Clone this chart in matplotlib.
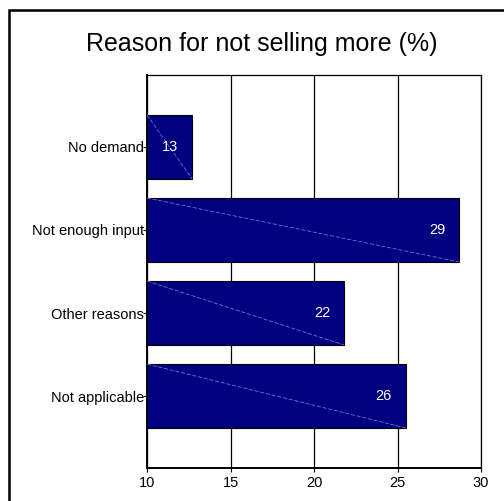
import matplotlib
matplotlib.use("Agg")
import matplotlib.pyplot as plt
from matplotlib.patches import Rectangle

# data
reasons = ["No demand", "Not enough input", "Other reasons", "Not applicable"]
shares = [12.7, 28.7, 21.8, 25.5]
share_labels = ["13", "29", "22", "26"]
x_ticks = [10, 15, 20, 25, 30]

plt.rcParams['font.family'] = ['Liberation Sans', 'DejaVu Sans']

fig = plt.figure(figsize=(5.04, 5.01), dpi=100)
W, H = 504, 501

# outer frame of the chart
fig.patches.append(Rectangle((9 / W, -0.2), 1.2, 1 - 10 / H + 0.2,
                             transform=fig.transFigure, fill=False,
                             edgecolor='black', linewidth=1.8))

ax = fig.add_axes([147 / W, 1 - 468 / H, (481 - 147) / W, (468 - 75) / H])

pos = list(range(len(reasons)))
bar_h = 0.77
ax.barh(pos, [v - 10 for v in shares], left=10, height=bar_h,
        color='#000080', edgecolor='black', linewidth=0.8, zorder=3)

# thin diagonal line inside each bar
for p, v in zip(pos, shares):
    ax.plot([10, v], [p - bar_h / 2, p + bar_h / 2], color='#7070d8',
            linewidth=0.6, linestyle=(0, (5, 2)), zorder=4)

for p, v, lab in zip(pos, shares, share_labels):
    ax.annotate(lab, (v, p), xytext=(-22, 0), textcoords='offset pixels',
                ha='center', va='center', color='white', fontsize=10.5, zorder=5)

ax.set_xlim(10, 30)
ax.set_ylim(len(reasons) - 1 + 0.867, -0.867)
ax.set_xticks(x_ticks)
ax.set_yticks(pos)
ax.set_yticklabels(reasons)
ax.xaxis.grid(True, color='black', linewidth=0.9, zorder=0)
ax.set_axisbelow(True)
ax.tick_params(axis='y', length=3, pad=-1, labelsize=10.5)
ax.tick_params(axis='x', length=3, pad=3, labelsize=10.5)
for s in ax.spines.values():
    s.set_color('black')
    s.set_linewidth(0.9)
ax.spines['left'].set_linewidth(1.4)
ax.spines['bottom'].set_linewidth(1.4)

fig.text(262 / W, 1 - 44 / H, "Reason for not selling more (%)",
         ha='center', va='center', fontsize=18)

fig.savefig("out.png", dpi=100)
